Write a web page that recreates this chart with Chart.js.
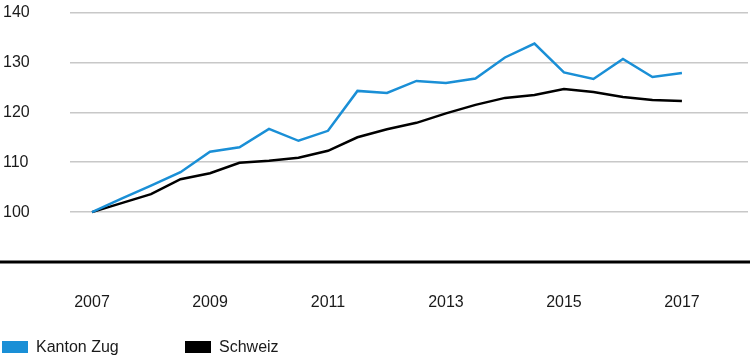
<!DOCTYPE html>
<html>
<head>
<meta charset="utf-8">
<script src="https://cdn.jsdelivr.net/npm/chart.js@4/dist/chart.umd.min.js"></script>
<style>
  html, body { margin: 0; padding: 0; background: #fff; }
  #wrap { position: relative; width: 750px; height: 359px; }
  #legend { position: absolute; left: 0; top: 338px; font: 16px 'Liberation Sans', Arial, sans-serif; color: #1a1a1a; }
  .item { position: absolute; top: 0; white-space: nowrap; height: 18px; line-height: 18px; }
  .box { position: absolute; top: 3px; left: 0; width: 26px; height: 12px; }
  .txt { position: absolute; left: 34px; top: 0; }
</style>
</head>
<body>
<div id="wrap">
  <canvas id="chart" width="750" height="359"></canvas>
  <div id="legend"></div>
</div>
<script>
// half-year steps 2007 - 2017, index 2007 = 100
const periods = [2007, 2007.5, 2008, 2008.5, 2009, 2009.5, 2010, 2010.5, 2011, 2011.5, 2012,
                 2012.5, 2013, 2013.5, 2014, 2014.5, 2015, 2015.5, 2016, 2016.5, 2017];
const zugValues = [100, 102.7, 105.3, 108.0, 112.1, 113.0, 116.7, 114.3, 116.3, 124.3, 123.9,
                   126.3, 125.9, 126.8, 131.0, 133.8, 128.0, 126.7, 130.7, 127.1, 127.9];
const schweizValues = [100, 101.8, 103.6, 106.6, 107.8, 109.9, 110.3, 110.9, 112.3, 115.0, 116.6,
                       117.9, 119.8, 121.5, 122.9, 123.5, 124.7, 124.1, 123.1, 122.5, 122.3];
const yearTicks = [2007, 2009, 2011, 2013, 2015, 2017];
const seriesNames = ['Kanton Zug', 'Schweiz'];
const seriesColors = ['#1a8fd6', '#000000'];

const font = { family: "'Liberation Sans', Arial, sans-serif", size: 16 };

// thick black base line across the whole width at the axis minimum
const baseLine = {
  id: 'baseLine',
  beforeDatasetsDraw(chart) {
    const y = chart.scales.y.getPixelForValue(chart.scales.y.min);
    const ctx = chart.ctx;
    ctx.save();
    ctx.strokeStyle = '#000';
    ctx.lineWidth = 3;
    ctx.beginPath();
    ctx.moveTo(0, y);
    ctx.lineTo(chart.width, y);
    ctx.stroke();
    ctx.restore();
  }
};

const chart = new Chart(document.getElementById('chart'), {
  type: 'line',
  data: {
    datasets: [zugValues, schweizValues].map((vals, i) => ({
      label: seriesNames[i],
      data: vals.map((v, j) => ({ x: periods[j], y: v })),
      borderColor: seriesColors[i],
      backgroundColor: seriesColors[i],
      borderWidth: 2.5,
      pointRadius: 0,
      tension: 0
    }))
  },
  options: {
    responsive: false,
    animation: false,
    layout: { padding: { left: 3, right: 2, top: 12, bottom: 0 } },
    plugins: { legend: { display: false }, tooltip: { enabled: false } },
    scales: {
      x: {
        type: 'linear',
        min: 2006.627,
        max: 2018.12,
        afterBuildTicks: (scale) => { scale.ticks = yearTicks.map(v => ({ value: v })); },
        afterFit: (scale) => { scale.height = 97; },
        grid: { display: false },
        border: { display: false },
        ticks: { font: font, color: '#1a1a1a', padding: 23, maxRotation: 0, callback: v => String(v) }
      },
      y: {
        min: 90,
        max: 140,
        afterFit: (scale) => { scale.width = 67; },
        ticks: {
          stepSize: 10,
          font: font,
          color: '#1a1a1a',
          crossAlign: 'far',
          callback: v => (v === 90 ? '' : v)
        },
        grid: {
          drawTicks: false,
          color: ctx => (ctx.tick && ctx.tick.value === 90 ? 'rgba(0,0,0,0)' : '#c8c8c8'),
          lineWidth: 1.5
        },
        border: { display: false }
      }
    }
  },
  plugins: [baseLine]
});

// legend built from the datasets
const legendEl = document.getElementById('legend');
const legendX = [2, 185];
chart.data.datasets.forEach((ds, i) => {
  const item = document.createElement('div');
  item.className = 'item';
  item.style.left = legendX[i] + 'px';
  item.innerHTML = '<span class="box" style="background:' + ds.borderColor + '"></span><span class="txt">' + ds.label + '</span>';
  legendEl.appendChild(item);
});
</script>
</body>
</html>
